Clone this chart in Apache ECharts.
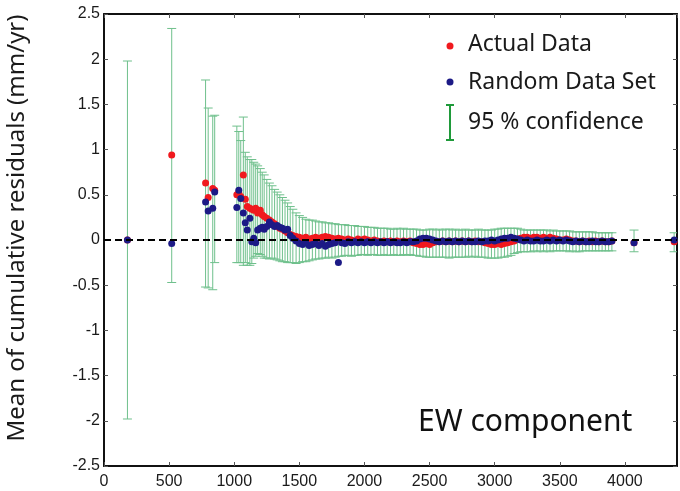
<!DOCTYPE html>
<html>
<head>
<meta charset="utf-8">
<script src="https://cdn.jsdelivr.net/npm/echarts@6/dist/echarts.min.js"></script>
<style>html,body{margin:0;padding:0;background:#fff}#c{width:680px;height:491px}</style>
</head>
<body>
<div id="c"></div>
<script>
// ---- data ----
const xValues = [180, 520, 780, 800, 835, 850,
  1020, 1035, 1050, 1070, 1085, 1100, 1120, 1135, 1150, 1165, 1180, 1200, 1215, 1230, 1250, 1270, 1290, 1310, 1330, 1350, 1370, 1390, 1410, 1430, 1450, 1475,
  1500, 1525, 1550, 1575, 1600, 1625, 1650, 1675, 1700, 1725, 1750, 1775, 1800, 1825, 1850, 1875, 1900, 1925, 1950, 1975,
  2000, 2025, 2050, 2075, 2100, 2125, 2150, 2175, 2200, 2225, 2250, 2275, 2300, 2325, 2350, 2375, 2400, 2425, 2450, 2475,
  2500, 2525, 2550, 2575, 2600, 2625, 2650, 2675, 2700, 2725, 2750, 2775, 2800, 2825, 2850, 2875, 2900, 2925, 2950, 2975,
  3000, 3025, 3050, 3075, 3100, 3125, 3150, 3175, 3200, 3225, 3250, 3275, 3300, 3325, 3350, 3375, 3400, 3425, 3450, 3475,
  3500, 3525, 3550, 3575, 3600, 3625, 3650, 3675, 3700, 3725, 3750, 3775, 3800, 3825, 3850, 3875, 3900,
  4070, 4378];

const actualData = [0.00, 0.94, 0.63, 0.47, 0.57, 0.55,
  0.50, 0.52, 0.48, 0.72, 0.45, 0.37, 0.35, 0.34, 0.33, 0.35, 0.30, 0.33, 0.28, 0.26, 0.24, 0.22, 0.20, 0.18, 0.15, 0.13, 0.12, 0.10, 0.08, 0.06, 0.05, 0.04,
  0.03, 0.02, 0.03, 0.01, 0.02, 0.03, 0.02, 0.03, 0.04, 0.03, 0.02, 0.01, 0.02, 0.01, 0.00, 0.01, 0.00, -0.01, 0.01, 0.00,
  0.01, 0.00, -0.01, 0.00, -0.01, -0.02, -0.01, -0.02, -0.01, -0.02, -0.01, -0.02, -0.01, -0.02, -0.01, -0.03, -0.04, -0.05, -0.05, -0.04,
  -0.05, -0.03, -0.02, -0.02, -0.01, -0.02, -0.01, -0.02, -0.01, -0.02, -0.01, -0.02, -0.01, -0.02, -0.01, -0.02, -0.02, -0.03, -0.04, -0.05,
  -0.05, -0.04, -0.05, -0.04, -0.03, -0.02, -0.01, 0.01, 0.02, 0.03, 0.03, 0.02, 0.03, 0.03, 0.02, 0.03, 0.02, 0.03, 0.02, 0.01,
  0.00, 0.00, 0.01, 0.00, -0.01, -0.01, -0.02, -0.01, -0.02, -0.01, -0.02, -0.01, -0.02, -0.01, -0.02, -0.02, -0.01,
  -0.03, -0.02];

const randomData = [0.00, -0.04, 0.42, 0.32, 0.35, 0.53,
  0.36, 0.55, 0.46, 0.30, 0.19, 0.11, 0.24, -0.02, 0.02, -0.03, 0.11, 0.13, 0.14, 0.12, 0.15, 0.20, 0.17, 0.15, 0.16, 0.14, 0.13, 0.11, 0.12, 0.05, 0.02, -0.01,
  -0.04, -0.05, -0.03, -0.06, -0.05, -0.04, -0.06, -0.04, -0.07, -0.05, -0.04, -0.03, -0.25, -0.03, -0.04, -0.02, -0.03, -0.02, -0.03, -0.02,
  -0.03, -0.02, -0.03, -0.02, -0.03, -0.02, -0.03, -0.02, -0.03, -0.02, -0.03, -0.03, -0.02, -0.03, -0.02, -0.02, -0.01, 0.01, 0.02, 0.02,
  0.01, 0.00, -0.01, -0.02, -0.01, -0.02, -0.01, -0.02, -0.01, -0.02, -0.01, -0.02, -0.01, -0.02, -0.02, -0.01, -0.02, -0.01, -0.01, 0.00,
  -0.01, 0.00, 0.01, 0.02, 0.02, 0.03, 0.02, 0.01, 0.00, -0.01, 0.00, -0.01, -0.01, 0.00, -0.01, -0.01, 0.00, -0.01, 0.00, -0.01,
  0.00, -0.01, 0.00, -0.01, -0.02, -0.01, -0.02, -0.01, -0.02, -0.02, -0.01, -0.02, -0.02, -0.01, -0.02, -0.02, -0.01,
  -0.03, 0.00];

const ciLow = [-1.98, -0.47, -0.52, -0.53, -0.55, -0.25,
  -0.25, -0.25, -0.25, -0.28, -0.25, -0.28, -0.28, -0.26, -0.20, -0.18, -0.15, -0.16, -0.18, -0.20, -0.20, -0.21, -0.20, -0.21, -0.22, -0.23, -0.24, -0.24, -0.25, -0.25, -0.25, -0.26,
  -0.25, -0.24, -0.24, -0.23, -0.22, -0.21, -0.21, -0.20, -0.20, -0.19, -0.20, -0.19, -0.18, -0.18, -0.17, -0.17, -0.18, -0.17, -0.17, -0.16,
  -0.16, -0.17, -0.16, -0.16, -0.17, -0.17, -0.16, -0.17, -0.17, -0.16, -0.17, -0.17, -0.16, -0.17, -0.16, -0.17, -0.17, -0.18, -0.18, -0.19,
  -0.19, -0.19, -0.19, -0.19, -0.19, -0.19, -0.20, -0.19, -0.19, -0.19, -0.19, -0.19, -0.18, -0.19, -0.18, -0.19, -0.19, -0.19, -0.20, -0.20,
  -0.20, -0.20, -0.19, -0.19, -0.18, -0.17, -0.15, -0.14, -0.13, -0.13, -0.13, -0.13, -0.12, -0.13, -0.12, -0.13, -0.12, -0.13, -0.12, -0.12,
  -0.12, -0.12, -0.12, -0.13, -0.12, -0.13, -0.13, -0.12, -0.12, -0.12, -0.12, -0.12, -0.12, -0.12, -0.12, -0.12, -0.12,
  -0.13, -0.13];

const ciHigh = [1.98, 2.34, 1.77, 1.46, 1.37, 1.38,
  1.26, 1.20, 1.10, 1.36, 0.97, 0.92, 0.89, 0.89, 0.86, 0.84, 0.82, 0.79, 0.75, 0.72, 0.67, 0.63, 0.60, 0.56, 0.53, 0.50, 0.47, 0.44, 0.41, 0.37, 0.34, 0.30,
  0.27, 0.25, 0.23, 0.22, 0.22, 0.21, 0.20, 0.20, 0.19, 0.19, 0.18, 0.18, 0.17, 0.17, 0.17, 0.16, 0.16, 0.16, 0.15, 0.15,
  0.15, 0.14, 0.14, 0.14, 0.13, 0.13, 0.13, 0.13, 0.12, 0.12, 0.13, 0.12, 0.13, 0.12, 0.12, 0.12, 0.12, 0.11, 0.11, 0.11,
  0.12, 0.12, 0.11, 0.12, 0.11, 0.12, 0.12, 0.11, 0.12, 0.11, 0.11, 0.12, 0.11, 0.11, 0.11, 0.12, 0.11, 0.11, 0.11, 0.11,
  0.12, 0.12, 0.13, 0.13, 0.13, 0.13, 0.13, 0.13, 0.12, 0.11, 0.11, 0.11, 0.11, 0.11, 0.11, 0.11, 0.11, 0.10, 0.11, 0.10,
  0.10, 0.10, 0.10, 0.10, 0.09, 0.09, 0.09, 0.09, 0.09, 0.09, 0.09, 0.08, 0.08, 0.08, 0.08, 0.08, 0.08,
  0.11, 0.08];

const xTicks = { min: 0, max: 4400, interval: 500 };
const yTicks = { min: -2.5, max: 2.5, interval: 0.5 };

const legendLabels = ['Actual Data', 'Random Data Set', '95 % confidence'];
const yTitle = 'Mean of cumulative residuals (mm/yr)';
const panelLabel = 'EW component';

// ---- chart ----
const chart = echarts.init(document.getElementById('c'), null, { renderer: 'canvas' });

const barData = xValues.map((x, i) => [x, ciLow[i], ciHigh[i]]);
const redData = xValues.map((x, i) => [x, actualData[i]]);
const blueData = xValues.map((x, i) => [x, randomData[i]]);

const labelFont = { fontFamily: 'Liberation Sans, Arial, sans-serif', fontSize: 16, color: '#1a1a1a' };
const textFont = 'Noto Sans, sans-serif';
const GREEN = '#6fc08c';

function axisCommon(show) {
  return {
    axisLine: { show: true, onZero: false, lineStyle: { color: '#111', width: 2 } },
    axisTick: { show: true, inside: true, length: 4, lineStyle: { color: '#555', width: 1 } },
    splitLine: { show: false },
    axisLabel: show
  };
}

chart.setOption({
  animation: false,
  backgroundColor: '#fff',
  grid: { left: 104, right: 3, top: 14, bottom: 25 },
  xAxis: [
    Object.assign({ type: 'value', position: 'bottom', min: xTicks.min, max: xTicks.max, interval: xTicks.interval },
      axisCommon({ show: true, margin: 8, showMaxLabel: false, formatter: v => String(v), ...labelFont })),
    Object.assign({ type: 'value', position: 'top', min: xTicks.min, max: xTicks.max, interval: xTicks.interval },
      axisCommon({ show: false }))
  ],
  yAxis: [
    Object.assign({ type: 'value', position: 'left', min: yTicks.min, max: yTicks.max, interval: yTicks.interval },
      axisCommon({ show: true, margin: 4, formatter: v => String(v), ...labelFont })),
    Object.assign({ type: 'value', position: 'right', min: yTicks.min, max: yTicks.max, interval: yTicks.interval },
      axisCommon({ show: false }))
  ],
  series: [
    {
      type: 'custom',
      name: 'ci',
      z: 1,
      clip: true,
      data: barData,
      renderItem: function (params, api) {
        const x = api.value(0);
        const lo = api.coord([x, api.value(1)]);
        const hi = api.coord([x, api.value(2)]);
        const hw = 4.5;
        const style = { stroke: GREEN, lineWidth: 1, fill: null };
        return {
          type: 'group',
          children: [
            { type: 'line', shape: { x1: lo[0], y1: lo[1], x2: hi[0], y2: hi[1] }, style },
            { type: 'line', shape: { x1: lo[0] - hw, y1: lo[1], x2: lo[0] + hw, y2: lo[1] }, style },
            { type: 'line', shape: { x1: hi[0] - hw, y1: hi[1], x2: hi[0] + hw, y2: hi[1] }, style }
          ]
        };
      }
    },
    {
      type: 'scatter',
      name: 'zero',
      z: 2,
      data: [],
      markLine: {
        silent: true,
        symbol: ['none', 'none'],
        label: { show: false },
        lineStyle: { color: '#000', width: 2, type: [7, 4] },
        data: [{ yAxis: 0 }]
      }
    },
    {
      type: 'scatter',
      name: legendLabels[0],
      z: 3,
      symbolSize: 7,
      itemStyle: { color: '#f0191e', opacity: 1 },
      data: redData
    },
    {
      type: 'scatter',
      name: legendLabels[1],
      z: 4,
      symbolSize: 7,
      itemStyle: { color: '#1c1a86', opacity: 1 },
      data: blueData
    }
  ],
  graphic: [
    { type: 'circle', shape: { cx: 450, cy: 46, r: 3.5 }, style: { fill: '#f0191e' } },
    { type: 'circle', shape: { cx: 450, cy: 82, r: 3.5 }, style: { fill: '#1c1a86' } },
    { type: 'polyline', shape: { points: [[446, 105], [454, 105]] }, style: { stroke: '#1f9a3a', lineWidth: 2 } },
    { type: 'polyline', shape: { points: [[450, 105], [450, 140]] }, style: { stroke: '#1f9a3a', lineWidth: 2 } },
    { type: 'polyline', shape: { points: [[446, 140], [454, 140]] }, style: { stroke: '#1f9a3a', lineWidth: 2 } },
    { type: 'text', x: 468, y: 44, style: { text: legendLabels[0], font: '23px ' + textFont, fill: '#1a1a1a', textVerticalAlign: 'middle' } },
    { type: 'text', x: 468, y: 82, style: { text: legendLabels[1], font: '23px ' + textFont, fill: '#1a1a1a', textVerticalAlign: 'middle' } },
    { type: 'text', x: 468, y: 122, style: { text: legendLabels[2], font: '23px ' + textFont, fill: '#1a1a1a', textVerticalAlign: 'middle' } },
    { type: 'text', x: 418, y: 422, style: { text: panelLabel, font: '30px ' + textFont, fill: '#111', textVerticalAlign: 'middle' } },
    { type: 'text', x: 17, y: 228, rotation: Math.PI / 2, style: { text: yTitle, font: '24px ' + textFont, fill: '#1a1a1a', textAlign: 'center', textVerticalAlign: 'middle' } }
  ]
});
</script>
</body>
</html>
